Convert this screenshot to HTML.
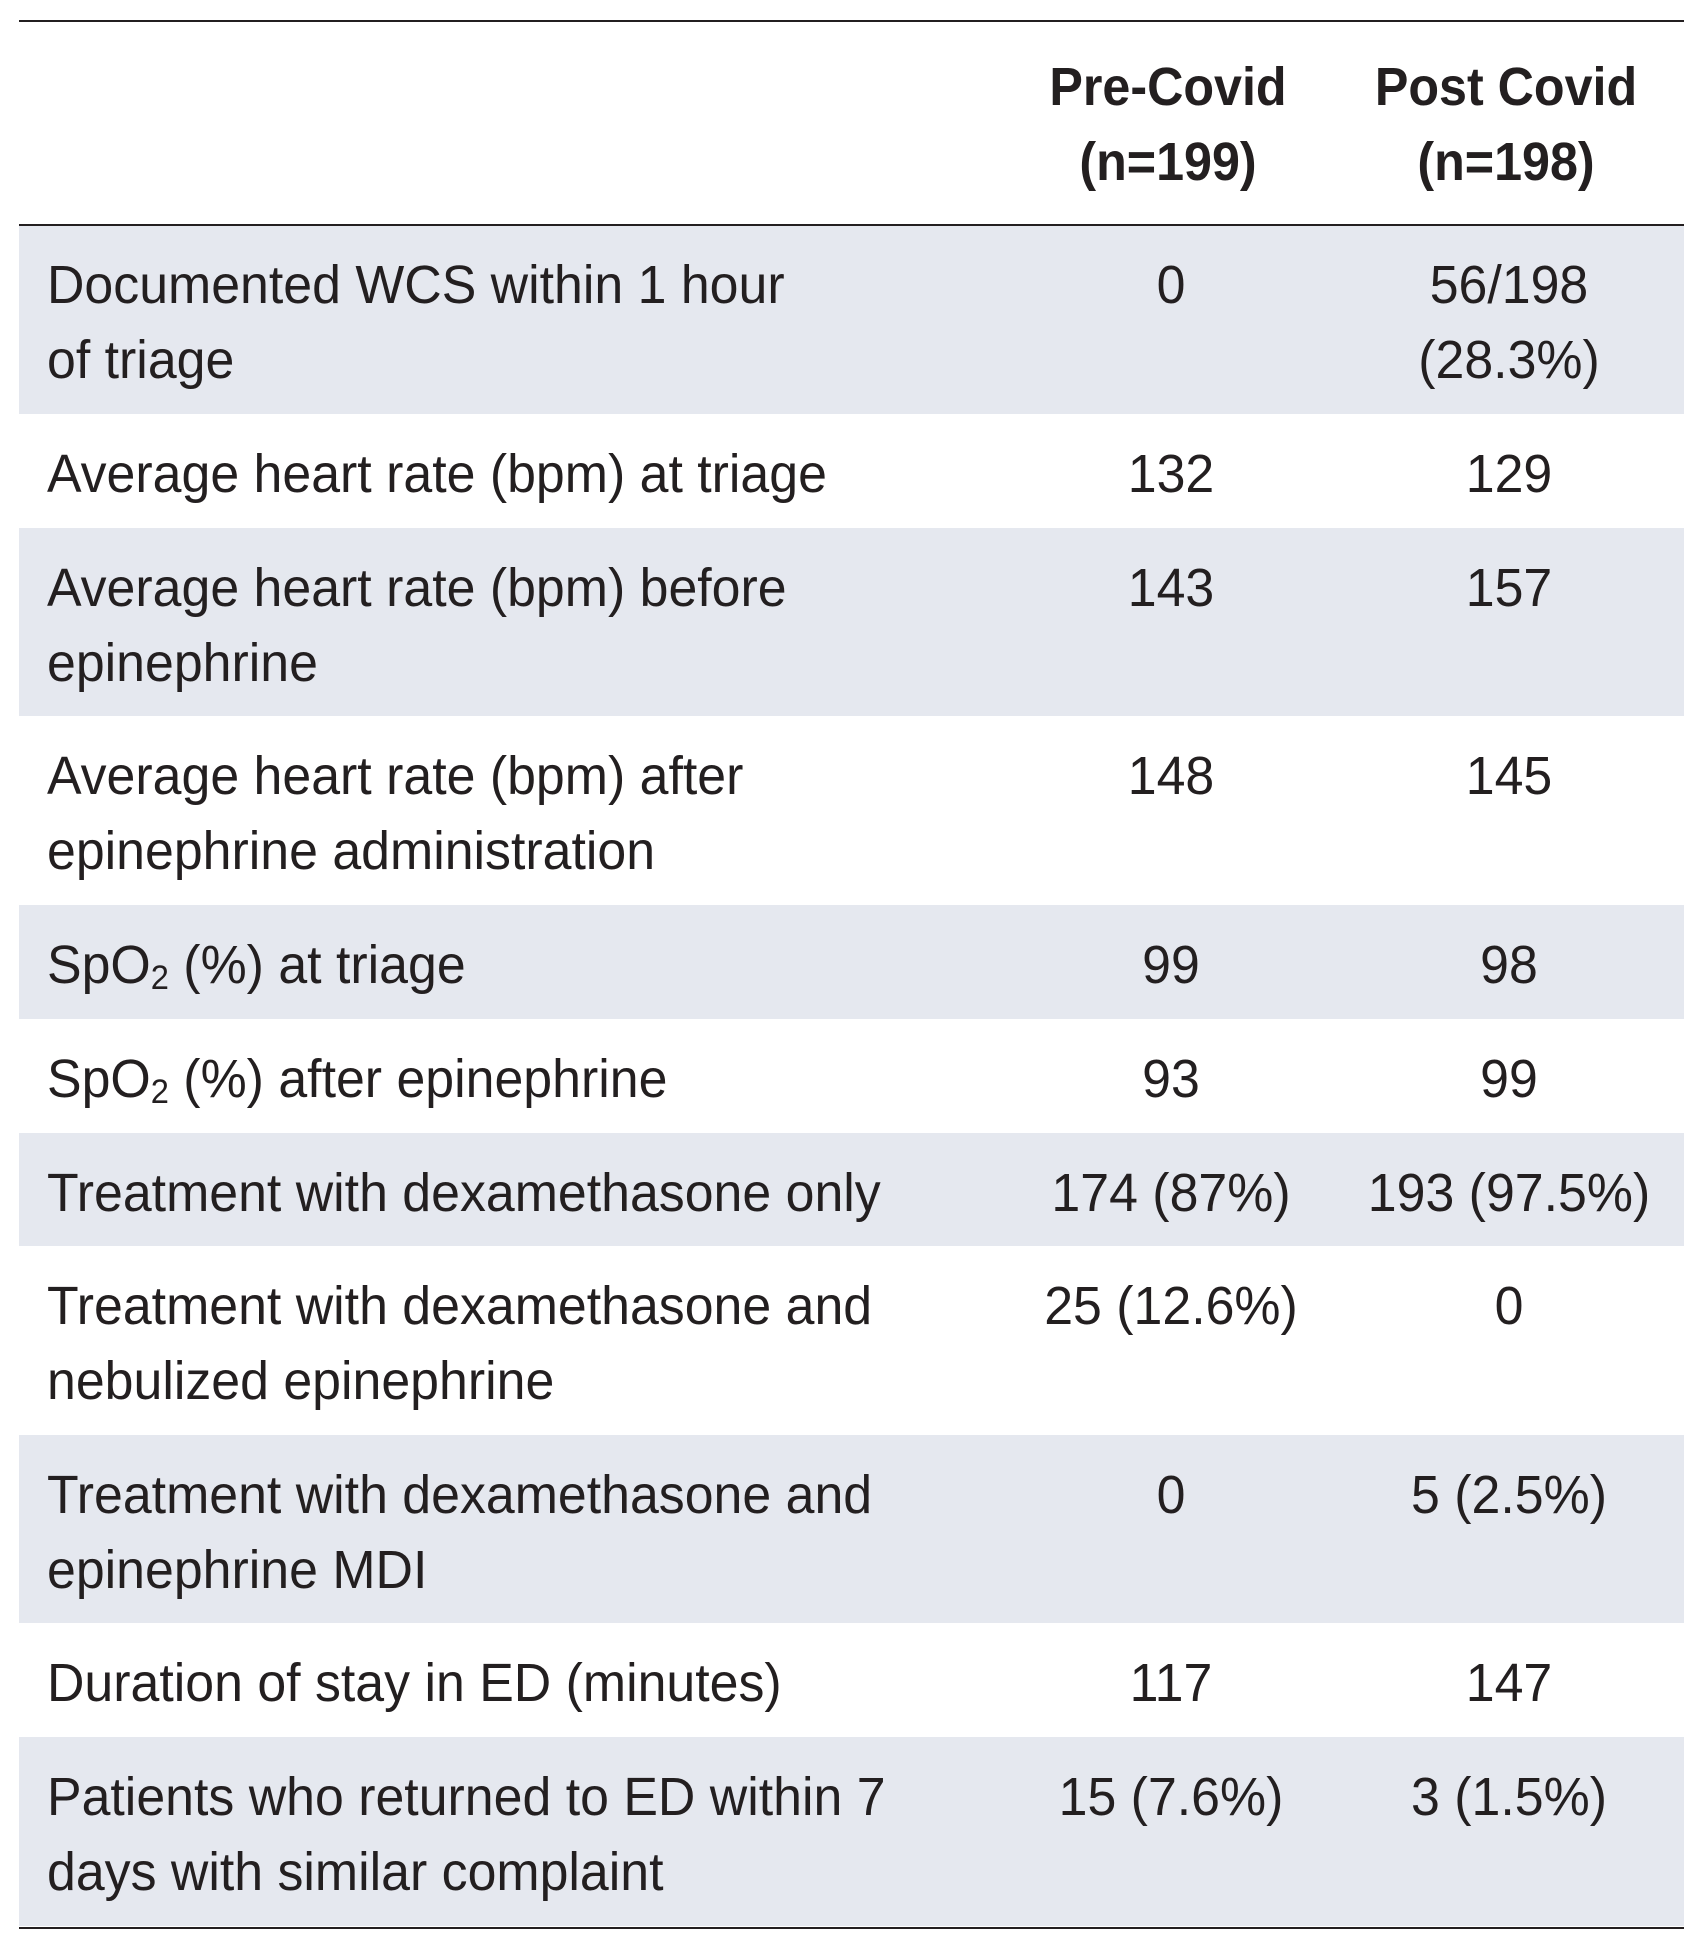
<!DOCTYPE html>
<html><head><meta charset="utf-8"><style>
body{margin:0;width:1700px;height:1944px;background:#fff;position:relative;font-family:"Liberation Sans",sans-serif;color:#231f20;overflow:hidden}
.line{position:absolute;left:19px;width:1665px;background:#231f20}
.row{position:absolute;left:19px;width:1665px}
.s{background:#e5e8ef}
.c{position:absolute;top:23px;font-size:54px;line-height:75px;white-space:nowrap}
.l{left:28px;transform:scaleX(0.96);transform-origin:left top}
.a,.b{width:400px;text-align:center;transform:scaleX(0.96);transform-origin:center top}
.a{left:952px}.b{left:1290px}
.h{font-weight:bold;transform:scaleX(0.93)}
.h.a{left:968px}.h.b{left:1306px}
sub{font-size:34px;vertical-align:-6px;line-height:0}
</style></head><body>
<div class="line" style="top:20px;height:2px"></div>
<div class="c a h" style="top:50px">Pre-Covid<br>(n=199)</div>
<div class="c b h" style="top:50px">Post Covid<br>(n=198)</div>
<div class="line" style="top:224px;height:2px;z-index:2"></div>

<div class="row s" style="top:225px;height:189px"><div class="c l">Documented WCS within 1 hour<br>of triage</div><div class="c a">0</div><div class="c b">56/198<br>(28.3%)</div></div>
<div class="row" style="top:414px;height:114px"><div class="c l">Average heart rate (bpm) at triage</div><div class="c a">132</div><div class="c b">129</div></div>
<div class="row s" style="top:528px;height:188px"><div class="c l">Average heart rate (bpm) before<br>epinephrine</div><div class="c a">143</div><div class="c b">157</div></div>
<div class="row" style="top:716px;height:189px"><div class="c l">Average heart rate (bpm) after<br>epinephrine administration</div><div class="c a">148</div><div class="c b">145</div></div>
<div class="row s" style="top:905px;height:114px"><div class="c l">SpO<sub>2</sub> (%) at triage</div><div class="c a">99</div><div class="c b">98</div></div>
<div class="row" style="top:1019px;height:114px"><div class="c l">SpO<sub>2</sub> (%) after epinephrine</div><div class="c a">93</div><div class="c b">99</div></div>
<div class="row s" style="top:1133px;height:113px"><div class="c l">Treatment with dexamethasone only</div><div class="c a">174 (87%)</div><div class="c b">193 (97.5%)</div></div>
<div class="row" style="top:1246px;height:189px"><div class="c l">Treatment with dexamethasone and<br>nebulized epinephrine</div><div class="c a">25 (12.6%)</div><div class="c b">0</div></div>
<div class="row s" style="top:1435px;height:188px"><div class="c l">Treatment with dexamethasone and<br>epinephrine MDI</div><div class="c a">0</div><div class="c b">5 (2.5%)</div></div>
<div class="row" style="top:1623px;height:114px"><div class="c l">Duration of stay in ED (minutes)</div><div class="c a">117</div><div class="c b">147</div></div>
<div class="row s" style="top:1737px;height:189px"><div class="c l">Patients who returned to ED within 7<br>days with similar complaint</div><div class="c a">15 (7.6%)</div><div class="c b">3 (1.5%)</div></div>
<div class="line" style="top:1927px;height:2px"></div>
</body></html>
